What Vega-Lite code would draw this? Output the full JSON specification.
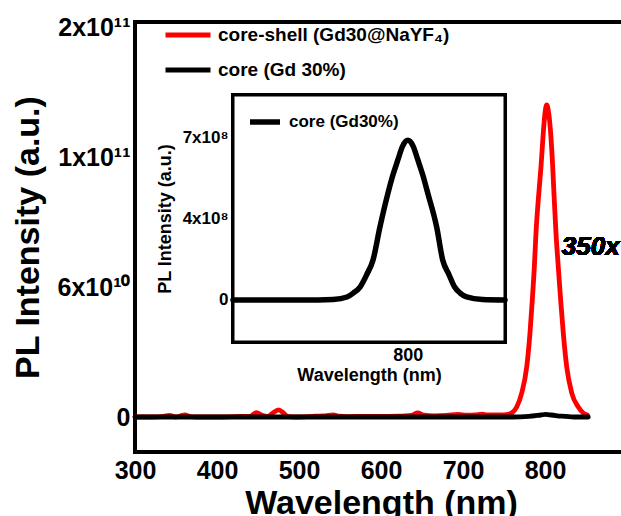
{
  "$schema": "https://vega.github.io/schema/vega-lite/v6.json",
  "width": 492,
  "height": 430,
  "autosize": "none",
  "padding": {"left": 135, "top": 22, "right": 0, "bottom": 64},
  "background": "white",
  "config": {
    "font": "Liberation Sans",
    "view": {"stroke": "#000000", "strokeWidth": 3},
    "axis": {"grid": false, "ticks": false, "domain": false, "labelFlush": false, "labelColor": "#000", "titleColor": "#000", "labelFont": "Liberation Sans", "titleFont": "Liberation Sans", "labelFontWeight": "bold", "titleFontWeight": "bold"},
    "legend": {"labelFont": "Liberation Sans", "labelFontWeight": "bold", "labelColor": "#000"}
  },
  "layer": [
    {
      "data": {"values": [
        {"wavelength": 300, "intensity": 0, "sample": "core-shell (Gd30@NaYF₄)"},
        {"wavelength": 320, "intensity": 0, "sample": "core-shell (Gd30@NaYF₄)"},
        {"wavelength": 335, "intensity": 3e8, "sample": "core-shell (Gd30@NaYF₄)"},
        {"wavelength": 342, "intensity": 8e8, "sample": "core-shell (Gd30@NaYF₄)"},
        {"wavelength": 350, "intensity": 0, "sample": "core-shell (Gd30@NaYF₄)"},
        {"wavelength": 356, "intensity": 6e8, "sample": "core-shell (Gd30@NaYF₄)"},
        {"wavelength": 361, "intensity": 1.1e9, "sample": "core-shell (Gd30@NaYF₄)"},
        {"wavelength": 366, "intensity": 3e8, "sample": "core-shell (Gd30@NaYF₄)"},
        {"wavelength": 375, "intensity": 0, "sample": "core-shell (Gd30@NaYF₄)"},
        {"wavelength": 400, "intensity": 0, "sample": "core-shell (Gd30@NaYF₄)"},
        {"wavelength": 420, "intensity": 2e8, "sample": "core-shell (Gd30@NaYF₄)"},
        {"wavelength": 440, "intensity": 3e8, "sample": "core-shell (Gd30@NaYF₄)"},
        {"wavelength": 448, "intensity": 2.2e9, "sample": "core-shell (Gd30@NaYF₄)"},
        {"wavelength": 455, "intensity": 8e8, "sample": "core-shell (Gd30@NaYF₄)"},
        {"wavelength": 462, "intensity": 3e8, "sample": "core-shell (Gd30@NaYF₄)"},
        {"wavelength": 468, "intensity": 2e9, "sample": "core-shell (Gd30@NaYF₄)"},
        {"wavelength": 475, "intensity": 3.6e9, "sample": "core-shell (Gd30@NaYF₄)"},
        {"wavelength": 481, "intensity": 2e9, "sample": "core-shell (Gd30@NaYF₄)"},
        {"wavelength": 486, "intensity": 3e8, "sample": "core-shell (Gd30@NaYF₄)"},
        {"wavelength": 495, "intensity": 0, "sample": "core-shell (Gd30@NaYF₄)"},
        {"wavelength": 520, "intensity": 4e8, "sample": "core-shell (Gd30@NaYF₄)"},
        {"wavelength": 530, "intensity": 5e8, "sample": "core-shell (Gd30@NaYF₄)"},
        {"wavelength": 542, "intensity": 1.1e9, "sample": "core-shell (Gd30@NaYF₄)"},
        {"wavelength": 548, "intensity": 4e8, "sample": "core-shell (Gd30@NaYF₄)"},
        {"wavelength": 560, "intensity": 2e8, "sample": "core-shell (Gd30@NaYF₄)"},
        {"wavelength": 580, "intensity": 3e8, "sample": "core-shell (Gd30@NaYF₄)"},
        {"wavelength": 600, "intensity": 3e8, "sample": "core-shell (Gd30@NaYF₄)"},
        {"wavelength": 620, "intensity": 4e8, "sample": "core-shell (Gd30@NaYF₄)"},
        {"wavelength": 637, "intensity": 8e8, "sample": "core-shell (Gd30@NaYF₄)"},
        {"wavelength": 645, "intensity": 2e9, "sample": "core-shell (Gd30@NaYF₄)"},
        {"wavelength": 652, "intensity": 9e8, "sample": "core-shell (Gd30@NaYF₄)"},
        {"wavelength": 665, "intensity": 6e8, "sample": "core-shell (Gd30@NaYF₄)"},
        {"wavelength": 680, "intensity": 8e8, "sample": "core-shell (Gd30@NaYF₄)"},
        {"wavelength": 694, "intensity": 1.3e9, "sample": "core-shell (Gd30@NaYF₄)"},
        {"wavelength": 705, "intensity": 9e8, "sample": "core-shell (Gd30@NaYF₄)"},
        {"wavelength": 715, "intensity": 1e9, "sample": "core-shell (Gd30@NaYF₄)"},
        {"wavelength": 723, "intensity": 1.4e9, "sample": "core-shell (Gd30@NaYF₄)"},
        {"wavelength": 730, "intensity": 1e9, "sample": "core-shell (Gd30@NaYF₄)"},
        {"wavelength": 745, "intensity": 1e9, "sample": "core-shell (Gd30@NaYF₄)"},
        {"wavelength": 755, "intensity": 1.3e9, "sample": "core-shell (Gd30@NaYF₄)"},
        {"wavelength": 759.4, "intensity": 2e9, "sample": "core-shell (Gd30@NaYF₄)"},
        {"wavelength": 765.5, "intensity": 5e9, "sample": "core-shell (Gd30@NaYF₄)"},
        {"wavelength": 771.6, "intensity": 1.2e10, "sample": "core-shell (Gd30@NaYF₄)"},
        {"wavelength": 777.7, "intensity": 2.5e10, "sample": "core-shell (Gd30@NaYF₄)"},
        {"wavelength": 781.7, "intensity": 4.2e10, "sample": "core-shell (Gd30@NaYF₄)"},
        {"wavelength": 784.5, "intensity": 5.85e10, "sample": "core-shell (Gd30@NaYF₄)"},
        {"wavelength": 787, "intensity": 7.5e10, "sample": "core-shell (Gd30@NaYF₄)"},
        {"wavelength": 789, "intensity": 9.2e10, "sample": "core-shell (Gd30@NaYF₄)"},
        {"wavelength": 791.8, "intensity": 1.085e11, "sample": "core-shell (Gd30@NaYF₄)"},
        {"wavelength": 795.1, "intensity": 1.25e11, "sample": "core-shell (Gd30@NaYF₄)"},
        {"wavelength": 797.9, "intensity": 1.42e11, "sample": "core-shell (Gd30@NaYF₄)"},
        {"wavelength": 800, "intensity": 1.52e11, "sample": "core-shell (Gd30@NaYF₄)"},
        {"wavelength": 802.1, "intensity": 1.56e11, "sample": "core-shell (Gd30@NaYF₄)"},
        {"wavelength": 804.5, "intensity": 1.52e11, "sample": "core-shell (Gd30@NaYF₄)"},
        {"wavelength": 806.9, "intensity": 1.42e11, "sample": "core-shell (Gd30@NaYF₄)"},
        {"wavelength": 809.4, "intensity": 1.25e11, "sample": "core-shell (Gd30@NaYF₄)"},
        {"wavelength": 811.3, "intensity": 1.085e11, "sample": "core-shell (Gd30@NaYF₄)"},
        {"wavelength": 813.4, "intensity": 9.2e10, "sample": "core-shell (Gd30@NaYF₄)"},
        {"wavelength": 816.2, "intensity": 7.5e10, "sample": "core-shell (Gd30@NaYF₄)"},
        {"wavelength": 819.1, "intensity": 5.85e10, "sample": "core-shell (Gd30@NaYF₄)"},
        {"wavelength": 822.3, "intensity": 4.2e10, "sample": "core-shell (Gd30@NaYF₄)"},
        {"wavelength": 826.5, "intensity": 2.5e10, "sample": "core-shell (Gd30@NaYF₄)"},
        {"wavelength": 832.6, "intensity": 1.2e10, "sample": "core-shell (Gd30@NaYF₄)"},
        {"wavelength": 840.6, "intensity": 5e9, "sample": "core-shell (Gd30@NaYF₄)"},
        {"wavelength": 846.7, "intensity": 2e9, "sample": "core-shell (Gd30@NaYF₄)"},
        {"wavelength": 851.6, "intensity": 1e9, "sample": "core-shell (Gd30@NaYF₄)"},
        {"wavelength": 300, "intensity": 0, "sample": "core (Gd 30%)"},
        {"wavelength": 400, "intensity": 0, "sample": "core (Gd 30%)"},
        {"wavelength": 500, "intensity": 0, "sample": "core (Gd 30%)"},
        {"wavelength": 600, "intensity": 0, "sample": "core (Gd 30%)"},
        {"wavelength": 700, "intensity": 0, "sample": "core (Gd 30%)"},
        {"wavelength": 760, "intensity": 0, "sample": "core (Gd 30%)"},
        {"wavelength": 780, "intensity": 3e8, "sample": "core (Gd 30%)"},
        {"wavelength": 795, "intensity": 1e9, "sample": "core (Gd 30%)"},
        {"wavelength": 801, "intensity": 1.3e9, "sample": "core (Gd 30%)"},
        {"wavelength": 808, "intensity": 1e9, "sample": "core (Gd 30%)"},
        {"wavelength": 820, "intensity": 4e8, "sample": "core (Gd 30%)"},
        {"wavelength": 835, "intensity": 0, "sample": "core (Gd 30%)"},
        {"wavelength": 852.8, "intensity": 0, "sample": "core (Gd 30%)"}
      ]},
      "layer": [
        {
          "mark": {"type": "rect", "filled": false, "stroke": "#000", "strokeWidth": 3},
          "encoding": {
            "x": {"datum": 300, "type": "quantitative"},
            "x2": {"datum": 900},
            "y": {"datum": -1.75e10, "type": "quantitative"},
            "y2": {"datum": 1.975e11}
          }
        },
        {
          "mark": {"type": "line", "strokeWidth": 4.8, "interpolate": "monotone", "strokeCap": "round", "strokeJoin": "round"},
          "encoding": {
            "x": {"field": "wavelength", "type": "quantitative",
              "scale": {"domain": [300, 900], "nice": false, "zero": false},
              "axis": {"orient": "bottom", "values": [300, 400, 500, 600, 700, 800], "labelFontSize": 25, "labelPadding": 6, "title": "Wavelength (nm)", "titleFontSize": 34, "titlePadding": 3}},
            "y": {"field": "intensity", "type": "quantitative",
              "scale": {"domain": [-1.75e10, 1.975e11], "nice": false, "zero": false},
              "axis": {"orient": "left", "values": [0, 6.5e10, 1.3e11, 1.95e11],
                "labelExpr": "datum.value == 0 ? '0' : datum.value < 1e11 ? '6x10¹⁰' : datum.value < 1.6e11 ? '1x10¹¹' : '2x10¹¹'",
                "labelFontSize": 25, "labelPadding": 5, "title": "PL Intensity (a.u.)", "titleFontSize": 34, "titlePadding": 12}},
            "color": {"field": "sample", "type": "nominal",
              "scale": {"domain": ["core-shell (Gd30@NaYF₄)", "core (Gd 30%)"], "range": ["#ff0000", "#000000"]},
              "legend": {"orient": "none", "legendX": 28, "legendY": -12, "title": null, "symbolType": "stroke", "symbolSize": 2025, "symbolStrokeWidth": 5, "labelFontSize": 19, "labelOffset": 5, "rowPadding": -16, "padding": 0, "labelLimit": 400}}
          }
        },
        {
          "mark": {"type": "text", "text": "350x", "fontSize": 26, "fontWeight": "bold", "fontStyle": "italic", "align": "left", "baseline": "middle", "color": "#000"},
          "encoding": {
            "x": {"datum": 820.5, "type": "quantitative"},
            "y": {"datum": 8.5e10, "type": "quantitative"}
          }
        }
      ]
    },
    {
      "data": {"values": [
        {"wavelength": 683, "intensity": 0, "sample": "core (Gd30%)"},
        {"wavelength": 700, "intensity": 0, "sample": "core (Gd30%)"},
        {"wavelength": 720, "intensity": 0, "sample": "core (Gd30%)"},
        {"wavelength": 740, "intensity": 0, "sample": "core (Gd30%)"},
        {"wavelength": 750, "intensity": 2e6, "sample": "core (Gd30%)"},
        {"wavelength": 759.3, "intensity": 1.3e7, "sample": "core (Gd30%)"},
        {"wavelength": 763.5, "intensity": 3e7, "sample": "core (Gd30%)"},
        {"wavelength": 768, "intensity": 5.6e7, "sample": "core (Gd30%)"},
        {"wavelength": 772.5, "intensity": 1.1e8, "sample": "core (Gd30%)"},
        {"wavelength": 776.7, "intensity": 1.73e8, "sample": "core (Gd30%)"},
        {"wavelength": 781.3, "intensity": 3.15e8, "sample": "core (Gd30%)"},
        {"wavelength": 786.7, "intensity": 4.62e8, "sample": "core (Gd30%)"},
        {"wavelength": 790, "intensity": 5.4e8, "sample": "core (Gd30%)"},
        {"wavelength": 793.3, "intensity": 6.05e8, "sample": "core (Gd30%)"},
        {"wavelength": 796.5, "intensity": 6.65e8, "sample": "core (Gd30%)"},
        {"wavelength": 800, "intensity": 6.9e8, "sample": "core (Gd30%)"},
        {"wavelength": 803.5, "intensity": 6.65e8, "sample": "core (Gd30%)"},
        {"wavelength": 806.7, "intensity": 6.05e8, "sample": "core (Gd30%)"},
        {"wavelength": 810, "intensity": 5.4e8, "sample": "core (Gd30%)"},
        {"wavelength": 813.3, "intensity": 4.62e8, "sample": "core (Gd30%)"},
        {"wavelength": 819.3, "intensity": 3.15e8, "sample": "core (Gd30%)"},
        {"wavelength": 823.3, "intensity": 1.73e8, "sample": "core (Gd30%)"},
        {"wavelength": 827.5, "intensity": 1.1e8, "sample": "core (Gd30%)"},
        {"wavelength": 831.3, "intensity": 5.6e7, "sample": "core (Gd30%)"},
        {"wavelength": 835, "intensity": 3e7, "sample": "core (Gd30%)"},
        {"wavelength": 839.3, "intensity": 1.3e7, "sample": "core (Gd30%)"},
        {"wavelength": 850, "intensity": 2e6, "sample": "core (Gd30%)"},
        {"wavelength": 865, "intensity": 0, "sample": "core (Gd30%)"}
      ]},
      "layer": [
        {
          "mark": {"type": "rect", "fill": "white", "stroke": "#000", "strokeWidth": 3},
          "encoding": {
            "x": {"datum": 683, "type": "quantitative"},
            "x2": {"datum": 865},
            "y": {"datum": -1.815e8, "type": "quantitative"},
            "y2": {"datum": 8.858e8}
          }
        },
        {
          "mark": {"type": "line", "strokeWidth": 5.5, "interpolate": "monotone", "strokeCap": "round", "strokeJoin": "round"},
          "encoding": {
            "x": {"field": "wavelength", "type": "quantitative",
              "scale": {"domain": [683, 865], "range": [98, 370], "nice": false, "zero": false},
              "axis": {"orient": "bottom", "offset": -110, "values": [800], "labelFontSize": 18, "labelPadding": 4, "title": "Wavelength (nm)", "titleFontSize": 18, "titlePadding": 2}},
            "y": {"field": "intensity", "type": "quantitative",
              "scale": {"domain": [-1.815e8, 8.858e8], "range": [320, 73], "nice": false, "zero": false},
              "axis": {"orient": "left", "offset": -98, "values": [0, 3.5e8, 7e8],
                "labelExpr": "datum.value == 0 ? '0' : datum.value < 5e8 ? '4x10⁸' : '7x10⁸'",
                "labelFontSize": 17, "labelPadding": 5, "title": "PL Intensity (a.u.)", "titleFontSize": 18, "titlePadding": 8}},
            "color": {"field": "sample", "type": "nominal",
              "scale": {"domain": ["core (Gd30%)"], "range": ["#000000"]},
              "legend": {"orient": "none", "legendX": 112, "legendY": 82, "title": null, "symbolType": "stroke", "symbolSize": 900, "symbolStrokeWidth": 5.5, "labelFontSize": 17, "labelOffset": 6, "padding": 0, "labelLimit": 300}}
          }
        }
      ]
    }
  ],
  "resolve": {"scale": {"x": "independent", "y": "independent", "color": "independent"}, "axis": {"x": "independent", "y": "independent"}, "legend": {"color": "independent"}}
}
